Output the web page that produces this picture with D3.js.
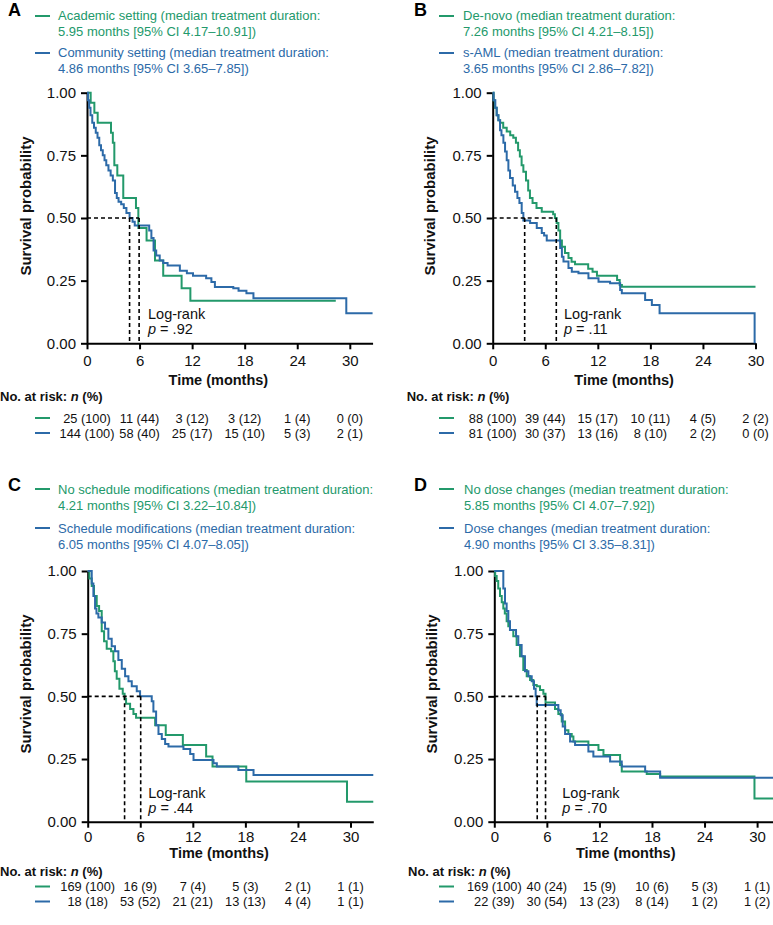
<!DOCTYPE html>
<html>
<head>
<meta charset="utf-8">
<script src="https://cdn.jsdelivr.net/npm/d3@7"></script>
<style>
  body { margin: 0; background: #fff; }
  svg { display: block; }
  text { font-family: "Liberation Sans", Arial, sans-serif; }
</style>
</head>
<body>
<script>
// ---------------- DATA ----------------
const xTicks = [0, 6, 12, 18, 24, 30];
const yTicks = [0, 0.25, 0.5, 0.75, 1];
const yTickLabels = ["0.00", "0.25", "0.50", "0.75", "1.00"];

// Panel A: practice setting
const aAcademicTime = [0,0.42,0.84,1.22,2.74,2.95,3.12,3.46,4.14,5.59,5.86,6.8,7.76,8.7,10.8,11.8,28.4];
const aAcademicSurv = [1,0.96,0.92,0.88,0.84,0.80,0.71,0.67,0.58,0.54,0.46,0.41,0.33,0.27,0.22,0.17,0.17];
const aCommunityTime = [0,0.12,0.25,0.4,0.6,0.8,1.0,1.2,1.4,1.6,1.8,2.0,2.2,2.45,2.7,2.95,3.2,3.4,3.6,3.9,4.2,4.5,4.86,5.2,5.45,7.1,7.35,7.6,7.9,8.3,8.7,9.2,10.6,11.4,12.1,13.6,14.2,14.6,16.7,17.3,18.2,19.0,29.6,32.6];
const aCommunitySurv = [1,0.97,0.94,0.91,0.88,0.86,0.84,0.82,0.79,0.77,0.75,0.73,0.71,0.69,0.67,0.65,0.60,0.58,0.565,0.555,0.54,0.52,0.50,0.485,0.47,0.45,0.42,0.37,0.35,0.33,0.32,0.31,0.29,0.28,0.27,0.26,0.245,0.225,0.22,0.21,0.20,0.18,0.12,0.12];
const aMedians = [5.95, 4.86];
const aLegend = [["Academic setting (median treatment duration:", "5.95 months [95% CI 4.17\u201310.91])"],
                 ["Community setting (median treatment duration:", "4.86 months [95% CI 3.65\u20137.85])"]];
const aRiskGreen = ["25 (100)", "11 (44)", "3 (12)", "3 (12)", "1 (4)", "0 (0)"];
const aRiskBlue = ["144 (100)", "58 (40)", "25 (17)", "15 (10)", "5 (3)", "2 (1)"];
const aP = ".92";

// Panel B: disease type
const bDeNovoTime = [0,0.1,0.25,0.45,0.65,0.85,1.2,1.6,2.0,2.35,2.65,2.9,3.1,3.3,3.5,3.8,4.05,4.25,4.55,5.0,5.6,6.9,7.1,7.3,7.5,7.7,7.9,8.25,8.65,9.0,9.4,10.9,11.4,11.9,14.2,14.5,14.75,30];
const bDeNovoSurv = [1,0.97,0.94,0.91,0.89,0.88,0.86,0.845,0.83,0.82,0.80,0.77,0.745,0.71,0.685,0.65,0.61,0.58,0.56,0.54,0.525,0.515,0.50,0.48,0.45,0.41,0.385,0.36,0.34,0.325,0.315,0.297,0.286,0.27,0.253,0.233,0.226,0.226];
const bSamlTime = [0,0.1,0.3,0.46,0.65,0.84,1.0,1.22,1.41,1.6,1.79,1.98,2.29,2.55,2.82,3.05,3.31,3.5,4.27,5.03,5.6,5.87,6.17,7.7,7.9,8.08,8.65,9.03,9.79,10.93,12.08,13.4,14.55,14.74,17.4,18.17,19.05,29.9];
const bSamlSurv = [1,0.97,0.94,0.91,0.89,0.85,0.83,0.80,0.765,0.73,0.69,0.66,0.63,0.605,0.58,0.56,0.52,0.49,0.48,0.46,0.44,0.43,0.41,0.38,0.345,0.326,0.30,0.286,0.28,0.26,0.246,0.24,0.213,0.20,0.173,0.153,0.12,0];
const bMedians = [7.26, 3.65];
const bLegend = [["De-novo (median treatment duration:", "7.26 months [95% CI 4.21\u20138.15])"],
                 ["s-AML (median treatment duration:", "3.65 months [95% CI 2.86\u20137.82])"]];
const bRiskGreen = ["88 (100)", "39 (44)", "15 (17)", "10 (11)", "4 (5)", "2 (2)"];
const bRiskBlue = ["81 (100)", "30 (37)", "13 (16)", "8 (10)", "2 (2)", "0 (0)"];
const bP = ".11";

// Panel C: schedule modifications
const cNoSchedTime = [0,0.19,0.46,0.72,1.03,1.3,1.6,1.87,2.17,2.67,2.93,3.1,3.31,3.62,4.0,4.21,4.38,4.84,5.22,5.52,7.7,8.91,10.86,13.52,14.25,18.1,29.6,32.6];
const cNoSchedSurv = [1,0.97,0.94,0.90,0.86,0.84,0.76,0.72,0.69,0.68,0.64,0.60,0.57,0.53,0.51,0.49,0.47,0.45,0.43,0.415,0.385,0.346,0.306,0.26,0.22,0.16,0.08,0.08];
const cSchedTime = [0,0.46,0.65,0.84,1.0,1.22,1.6,1.98,2.36,2.74,3.12,3.5,3.89,4.27,4.65,5.03,5.6,5.98,7.31,7.5,7.81,8.08,8.46,8.84,9.22,10.93,11.7,12.08,14.36,14.74,17.2,18.93,32.6];
const cSchedSurv = [1,0.95,0.90,0.85,0.83,0.815,0.795,0.77,0.73,0.70,0.68,0.645,0.61,0.58,0.56,0.54,0.52,0.50,0.48,0.44,0.385,0.35,0.33,0.31,0.30,0.29,0.27,0.246,0.233,0.22,0.206,0.186,0.186];
const cMedians = [4.21, 6.05];
const cLegend = [["No schedule modifications (median treatment duration:", "4.21 months [95% CI 3.22\u201310.84])"],
                 ["Schedule modifications (median treatment duration:", "6.05 months [95% CI 4.07\u20138.05])"]];
const cRiskGreen = ["169 (100)", "16 (9)", "7 (4)", "5 (3)", "2 (1)", "1 (1)"];
const cRiskBlue = ["18 (18)", "53 (52)", "21 (21)", "13 (13)", "4 (4)", "1 (1)"];
const cP = ".44";

// Panel D: dose changes
const dNoDoseTime = [0,0.1,0.27,0.45,0.65,0.85,1.03,1.2,1.41,1.6,1.79,2.17,2.55,2.93,3.31,3.7,4.08,4.46,4.84,5.22,5.6,5.85,6.93,7.31,7.7,8.08,8.46,8.84,9.03,10.74,11.89,12.46,14.36,14.55,17.4,18.93,29.7,32.6];
const dNoDoseSurv = [1,0.98,0.96,0.93,0.90,0.875,0.85,0.83,0.80,0.78,0.765,0.74,0.705,0.66,0.605,0.58,0.565,0.545,0.54,0.525,0.51,0.475,0.45,0.43,0.40,0.365,0.35,0.34,0.32,0.306,0.286,0.266,0.226,0.20,0.19,0.18,0.093,0.093];
const dDoseTime = [0,1.03,1.22,1.41,1.6,1.79,2.48,2.74,3.12,3.5,3.89,4.27,4.53,4.72,4.84,7.31,7.58,7.81,8.08,8.65,9.22,10.74,11.31,13.22,14.55,17.22,18.93,32.6];
const dDoseSurv = [1,0.93,0.87,0.84,0.80,0.765,0.74,0.705,0.66,0.60,0.58,0.56,0.53,0.50,0.465,0.445,0.425,0.38,0.35,0.32,0.306,0.28,0.26,0.24,0.22,0.20,0.175,0.175];
const dMedians = [5.85, 4.90];
const dLegend = [["No dose changes (median treatment duration:", "5.85 months [95% CI 4.07\u20137.92])"],
                 ["Dose changes (median treatment duration:", "4.90 months [95% CI 3.35\u20138.31])"]];
const dRiskGreen = ["169 (100)", "40 (24)", "15 (9)", "10 (6)", "5 (3)", "1 (1)"];
const dRiskBlue = ["22 (39)", "30 (54)", "13 (23)", "8 (14)", "1 (2)", "1 (2)"];
const dP = ".70";

// ---------------- STYLE / LAYOUT ----------------
const GREEN = "#23996b";
const BLUE = "#2c6aa8";
const FONT = '"Liberation Sans", Arial, sans-serif';
const PX_PER_MONTH = 8.76;

const W = 773, H = 925;
const svg = d3.select("body").append("svg").attr("width", W).attr("height", H);

function zip(t, s) { return t.map((v, i) => [v, s[i]]); }

function drawPanel(c) {
  const g = svg.append("g");
  const x = d3.scaleLinear().domain([0, c.xMax]).range([c.x0, c.x0 + c.xMax * PX_PER_MONTH]);
  const y = d3.scaleLinear().domain([0, 1]).range([c.yBot, c.yTop]);

  // panel letter
  g.append("text").attr("x", c.letter[0]).attr("y", c.letter[1])
    .attr("font-size", 18).attr("font-weight", "bold").attr("fill", "#000").text(c.name);

  // legend
  const colors = [GREEN, BLUE];
  c.legend.forEach((lines, i) => {
    g.append("line").attr("x1", c.legLineX).attr("x2", c.legLineX + 15)
      .attr("y1", c.legLineY[i]).attr("y2", c.legLineY[i])
      .attr("stroke", colors[i]).attr("stroke-width", 2);
    lines.forEach((ln, j) => {
      g.append("text").attr("x", c.legTextX).attr("y", c.legY[i * 2 + j])
        .attr("font-size", 13).attr("fill", colors[i]).text(ln);
    });
  });

  // axes
  const xAxis = d3.axisBottom(x).tickValues(xTicks).tickSize(6).tickSizeOuter(0).tickPadding(c.tickPad);
  const gx = g.append("g").attr("transform", `translate(0,${c.yBot})`).call(xAxis);
  const yAxis = d3.axisLeft(y).tickValues(yTicks).tickSize(6).tickSizeOuter(0).tickPadding(5)
    .tickFormat((d, i) => yTickLabels[i]);
  const gy = g.append("g").attr("transform", `translate(${c.x0},0)`).call(yAxis);
  [gx, gy].forEach(ax => {
    ax.attr("font-size", 15).attr("font-family", FONT);
    ax.selectAll("path, line").attr("stroke", "#000").attr("stroke-width", 2);
    ax.selectAll("text").attr("fill", "#111");
  });

  // curves
  const line = d3.line().x(d => x(d[0])).y(d => y(d[1])).curve(d3.curveStepAfter);
  c.curves.forEach((cv, i) => {
    g.append("path").attr("d", line(zip(cv[0], cv[1])))
      .attr("fill", "none").attr("stroke", colors[i]).attr("stroke-width", 2);
  });

  // median dashed lines
  const mMax = d3.max(c.medians);
  g.append("line").attr("x1", x(0)).attr("x2", x(mMax)).attr("y1", y(0.5)).attr("y2", y(0.5))
    .attr("stroke", "#000").attr("stroke-width", 1.6).attr("stroke-dasharray", "4,3");
  c.medians.forEach(m => {
    g.append("line").attr("x1", x(m)).attr("x2", x(m)).attr("y1", y(0.5)).attr("y2", y(0))
      .attr("stroke", "#000").attr("stroke-width", 1.6).attr("stroke-dasharray", "4,3");
  });

  // log-rank
  g.append("text").attr("x", c.lr[0]).attr("y", c.lr[1]).attr("font-size", 14.5).attr("fill", "#111").text("Log-rank");
  const pt = g.append("text").attr("x", c.lr[0]).attr("y", c.lr[2]).attr("font-size", 14.5).attr("fill", "#111");
  pt.append("tspan").attr("font-style", "italic").text("p");
  pt.append("tspan").text(" = " + c.p);

  // y label
  g.append("text").attr("transform", `translate(${c.ylab[0]},${c.ylab[1]}) rotate(-90)`)
    .attr("text-anchor", "middle").attr("dominant-baseline", "central")
    .attr("font-size", 15).attr("font-weight", "bold").attr("fill", "#111").text("Survival probability");

  // x title
  g.append("text").attr("x", (x(0) + x(30)) / 2).attr("y", c.timeY)
    .attr("text-anchor", "middle").attr("font-size", 14.5).attr("font-weight", "bold").attr("fill", "#111")
    .text("Time (months)");

  // risk table
  const rh = g.append("text").attr("x", c.riskHeader[0]).attr("y", c.riskHeader[1])
    .attr("font-size", 13).attr("font-weight", "bold").attr("fill", "#111");
  rh.append("tspan").text("No. at risk: ");
  rh.append("tspan").attr("font-style", "italic").text("n");
  rh.append("tspan").text(" (%)");
  c.risk.forEach((row, i) => {
    g.append("line").attr("x1", c.legLineX).attr("x2", c.legLineX + 15)
      .attr("y1", c.riskY[i] - 4.5).attr("y2", c.riskY[i] - 4.5)
      .attr("stroke", colors[i]).attr("stroke-width", 2);
    row.forEach((v, k) => {
      g.append("text").attr("x", x(xTicks[k])).attr("y", c.riskY[i])
        .attr("text-anchor", "middle").attr("font-size", 12.8).attr("fill", "#111").text(v);
    });
  });
}

drawPanel({
  name: "A", x0: 87, yTop: 92.7, yBot: 343.3, xMax: 32.6, tickPad: 6,
  letter: [8, 16], legLineX: 35, legTextX: 58, legY: [20, 36, 57, 73], legLineY: [16, 53],
  lr: [148, 319, 334], ylab: [25, 206], timeY: 385, riskHeader: [0, 401], riskY: [422.5, 437.5],
  legend: aLegend, curves: [[aAcademicTime, aAcademicSurv], [aCommunityTime, aCommunitySurv]],
  medians: aMedians, risk: [aRiskGreen, aRiskBlue], p: aP
});
drawPanel({
  name: "B", x0: 492.7, yTop: 92.7, yBot: 343.3, xMax: 30, tickPad: 6,
  letter: [414, 16], legLineX: 439, legTextX: 463, legY: [20, 36, 57, 73], legLineY: [16, 53],
  lr: [564, 319, 334], ylab: [429, 206], timeY: 385, riskHeader: [406.7, 401], riskY: [422.5, 437.5],
  legend: bLegend, curves: [[bDeNovoTime, bDeNovoSurv], [bSamlTime, bSamlSurv]],
  medians: bMedians, risk: [bRiskGreen, bRiskBlue], p: bP
});
drawPanel({
  name: "C", x0: 87.7, yTop: 571, yBot: 821.7, xMax: 32.6, tickPad: 4,
  letter: [8, 491], legLineX: 35, legTextX: 58, legY: [494, 510, 533, 549], legLineY: [489, 528],
  lr: [148.3, 798, 813], ylab: [25, 684], timeY: 858, riskHeader: [0, 875.5], riskY: [891, 906],
  legend: cLegend, curves: [[cNoSchedTime, cNoSchedSurv], [cSchedTime, cSchedSurv]],
  medians: cMedians, risk: [cRiskGreen, cRiskBlue], p: cP
});
drawPanel({
  name: "D", x0: 494.3, yTop: 571, yBot: 821.7, xMax: 32.6, tickPad: 4,
  letter: [414, 491], legLineX: 439, legTextX: 464, legY: [494, 510, 533, 549], legLineY: [489, 528],
  lr: [562.3, 798, 813], ylab: [431, 684], timeY: 858, riskHeader: [408, 875.5], riskY: [891, 906],
  legend: dLegend, curves: [[dNoDoseTime, dNoDoseSurv], [dDoseTime, dDoseSurv]],
  medians: dMedians, risk: [dRiskGreen, dRiskBlue], p: dP
});
</script>
</body>
</html>
